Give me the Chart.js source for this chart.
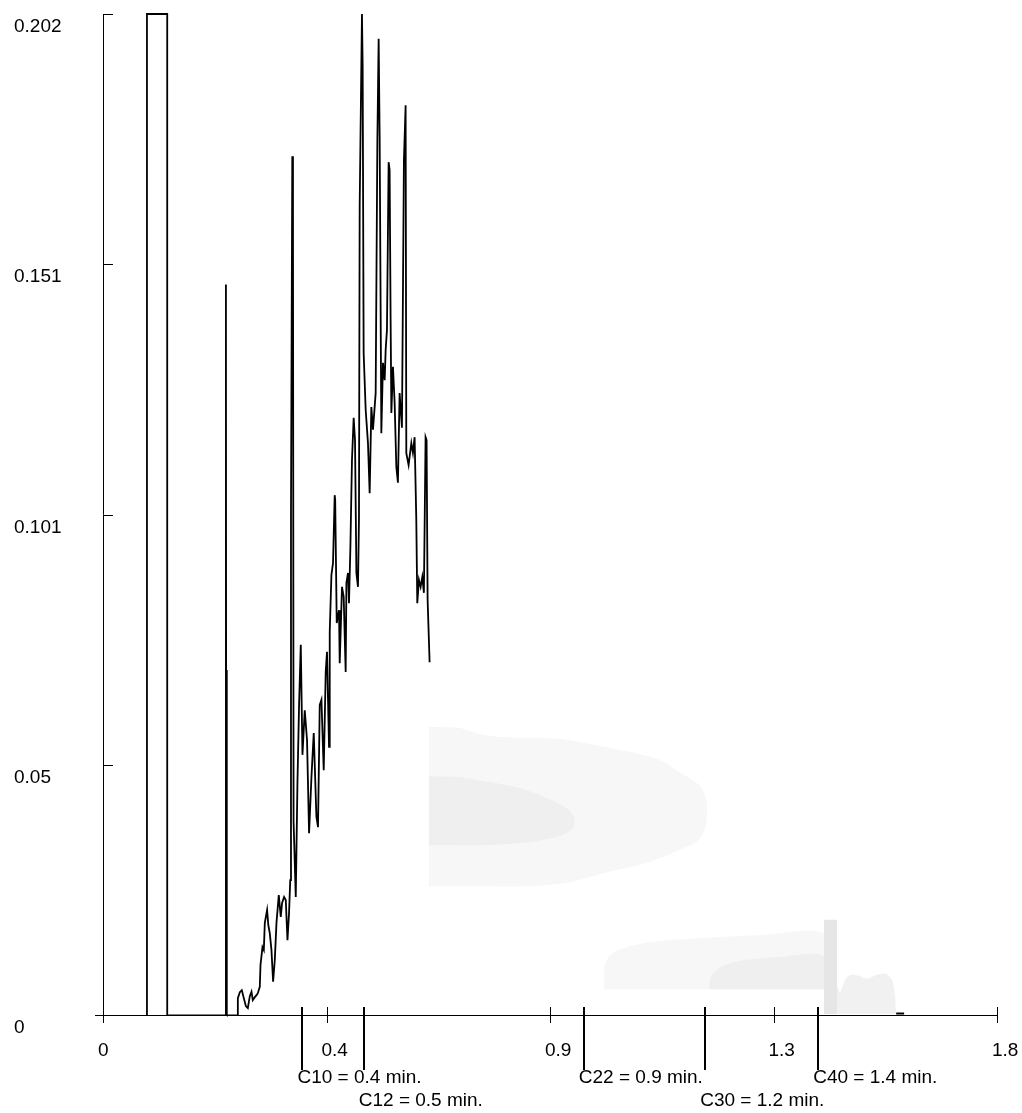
<!DOCTYPE html>
<html>
<head>
<meta charset="utf-8">
<script src="https://cdn.jsdelivr.net/npm/chart.js@4.4.1/dist/chart.umd.min.js"></script>
<style>
html,body{margin:0;padding:0;background:#fff;}
#wrap{width:1022px;height:1113px;}
</style>
</head>
<body>
<div id="wrap"><canvas id="chrom" width="1022" height="1113"></canvas></div>
<script>
// axis ticks (the labels are truncated, as in the original)
var xTicks = [0, 0.45, 0.9, 1.35, 1.8];
var xTickLabels = ['0', '0.4', '0.9', '1.3', '1.8'];
var yTicks = [0, 0.0505, 0.101, 0.1515, 0.202];
var yTickLabels = ['0', '0.05', '0.101', '0.151', '0.202'];

// retention time markers under the axis
var markerX = [0.4016, 0.525, 0.968, 1.2125, 1.44];
var markerLabels = ['C10 = 0.4 min.', 'C12 = 0.5 min.', 'C22 = 0.9 min.', 'C30 = 1.2 min.', 'C40 = 1.4 min.'];

// off-scale peak + early spike
var peakX = [0.0885, 0.0885, 0.1293, 0.1293, 0.2475, 0.2475, 0.2482, 0.2489, 0.2496, 0.2701];
var peakY = [0, 0.202, 0.202, 0, 0, 0.1474, 0.0001, 0.0696, 0, 0];

// noisy signal
var traceX = [0.2715, 0.2755, 0.2795, 0.2835, 0.2876, 0.2916, 0.2956, 0.2990, 0.3016, 0.3057,
  0.3091, 0.3117, 0.3157, 0.3171, 0.3211, 0.3238, 0.3258, 0.3304, 0.3328, 0.3358,
  0.3392, 0.3425, 0.3459, 0.3493, 0.3539, 0.3579, 0.3606, 0.3646, 0.3680, 0.3714,
  0.3746, 0.3770, 0.3785, 0.3811, 0.3825, 0.3837, 0.3881, 0.3915, 0.3947, 0.3982,
  0.4016, 0.4062, 0.4108, 0.4149, 0.4197, 0.4243, 0.4297, 0.4329, 0.4364, 0.4398,
  0.4444, 0.4484, 0.4510, 0.4551, 0.4565, 0.4599, 0.4631, 0.4665, 0.4675, 0.4706,
  0.4752, 0.4766, 0.4812, 0.4846, 0.4886, 0.4901, 0.4933, 0.4953, 0.4981, 0.5013,
  0.5047, 0.5074, 0.5102, 0.5134, 0.5154, 0.5168, 0.5214, 0.5228, 0.5248, 0.5289,
  0.5335, 0.5369, 0.5403, 0.5436, 0.5490, 0.5524, 0.5550, 0.5570, 0.5604, 0.5637,
  0.5671, 0.5691, 0.5717, 0.5751, 0.5771, 0.5791, 0.5806, 0.5838, 0.5872, 0.5906,
  0.5938, 0.5972, 0.6019, 0.6059, 0.6093, 0.6107, 0.6153, 0.6208, 0.6240, 0.6274,
  0.6308, 0.6328, 0.6361, 0.6395, 0.6429, 0.6461, 0.6495, 0.6515, 0.6536, 0.6576];
var traceY = [0.0034, 0.0046, 0.0050, 0.0034, 0.0018, 0.0014, 0.0038, 0.0047, 0.0030, 0.0036,
  0.0040, 0.0044, 0.0057, 0.0101, 0.0137, 0.0131, 0.0186, 0.0212, 0.0182, 0.0165,
  0.0131, 0.0067, 0.0111, 0.0186, 0.0242, 0.0198, 0.0226, 0.0238, 0.0232, 0.0151,
  0.0206, 0.0272, 0.1013, 0.1733, 0.1608, 0.0391, 0.0238, 0.0468, 0.0622, 0.0747,
  0.0525, 0.0615, 0.0555, 0.0367, 0.0480, 0.0569, 0.0400, 0.0379, 0.0626, 0.0636,
  0.0494, 0.0692, 0.0733, 0.0541, 0.0773, 0.0888, 0.0912, 0.1049, 0.1039, 0.0791,
  0.0817, 0.0710, 0.0864, 0.0844, 0.0692, 0.0872, 0.0892, 0.0831, 0.0944, 0.1120,
  0.1205, 0.1160, 0.0892, 0.0864, 0.1003, 0.1633, 0.2020, 0.1915, 0.1336, 0.1221,
  0.1154, 0.1053, 0.1227, 0.1181, 0.1255, 0.1764, 0.1970, 0.1774, 0.1174, 0.1316,
  0.1281, 0.1342, 0.1382, 0.1721, 0.1705, 0.1402, 0.1215, 0.1308, 0.1235, 0.1106,
  0.1074, 0.1255, 0.1185, 0.1725, 0.1836, 0.1134, 0.1110, 0.1154, 0.1134, 0.1166,
  0.0999, 0.0831, 0.0878, 0.0864, 0.0884, 0.0852, 0.1166, 0.1160, 0.0837, 0.0712];

// small flat bit near the end of the run
var tailX = [1.597, 1.613];
var tailY = [0.0003, 0.0003];

// faint grey background shapes
var shadeAOuterX = [0.6561, 0.7179, 0.7581, 0.7983, 0.9190, 0.9994, 1.0598, 1.1201, 1.1603, 1.2005, 1.2146, 1.2166, 1.2106, 1.1945, 1.1603, 1.1000, 1.0195, 0.9391, 0.8586, 0.7581, 0.6561];
var shadeAOuterY = [0.0581, 0.0579, 0.0567, 0.0561, 0.0557, 0.0543, 0.0531, 0.0515, 0.0490, 0.0464, 0.0434, 0.0410, 0.0373, 0.0349, 0.0333, 0.0309, 0.0289, 0.0268, 0.0260, 0.0260, 0.0260];
var shadeAInnerX = [0.6561, 0.7179, 0.7782, 0.8385, 0.8888, 0.9290, 0.9491, 0.9451, 0.9190, 0.8586, 0.7782, 0.6561];
var shadeAInnerY = [0.0482, 0.0480, 0.0470, 0.0458, 0.0440, 0.0420, 0.0398, 0.0377, 0.0361, 0.0349, 0.0343, 0.0343];
var shadeBOuterX = [1.0095, 1.0095, 1.0195, 1.0497, 1.0999, 1.2005, 1.3211, 1.4518, 1.4518];
var shadeBOuterY = [0.0052, 0.0095, 0.0119, 0.0135, 0.0147, 0.0155, 0.0161, 0.0163, 0.0052];
var shadeBInnerX = [1.2206, 1.2226, 1.2407, 1.2809, 1.3613, 1.4518, 1.4518];
var shadeBInnerY = [0.0052, 0.0075, 0.0095, 0.0109, 0.0117, 0.0119, 0.0052];
var shadeBarX = [1.4518, 1.4518, 1.4779, 1.4779];
var shadeBarY = [0.0002, 0.0192, 0.0192, 0.0002];
var shadeBumpX = [1.4779, 1.4779, 1.4839, 1.4940, 1.5061, 1.5222, 1.5383, 1.5584, 1.5765, 1.5886, 1.5946, 1.5966];
var shadeBumpY = [0.0002, 0.0061, 0.0046, 0.0071, 0.0081, 0.0079, 0.0073, 0.0081, 0.0083, 0.0071, 0.0040, 0.0002];

function pts(xs, ys) {
  return xs.map(function (x, i) { return { x: x, y: ys[i] }; });
}

var FONT = '"Liberation Sans", Arial, sans-serif';

function shape(xs, ys, color, order, tension) {
  return {
    data: pts(xs, ys),
    showLine: true,
    borderWidth: 0,
    borderColor: color,
    backgroundColor: color,
    fill: 'shape',
    pointRadius: 0,
    tension: tension,
    order: order
  };
}

var axisMarks = {
  id: 'axisMarks',
  afterDraw: function (chart) {
    var ctx = chart.ctx, xs = chart.scales.x, ys = chart.scales.y, a = chart.chartArea;
    ctx.save();
    ctx.strokeStyle = '#000';
    ctx.lineWidth = 1;
    ctx.beginPath();
    ctx.moveTo(a.left + 0.5, a.top);
    ctx.lineTo(a.left + 0.5, a.bottom);
    ctx.moveTo(a.left - 8, a.bottom + 0.5);
    ctx.lineTo(a.right, a.bottom + 0.5);
    yTicks.forEach(function (v) {
      var y = Math.round(ys.getPixelForValue(v)) + 0.5;
      ctx.moveTo(a.left, y);
      ctx.lineTo(a.left + 10, y);
    });
    xTicks.forEach(function (v) {
      var x = Math.round(xs.getPixelForValue(v)) + 0.5;
      ctx.moveTo(x, a.bottom - 8);
      ctx.lineTo(x, a.bottom + 8);
    });
    ctx.stroke();

    ctx.lineWidth = 2;
    ctx.beginPath();
    markerX.forEach(function (v) {
      var x = Math.round(xs.getPixelForValue(v));
      ctx.moveTo(x, a.bottom - 8);
      ctx.lineTo(x, a.bottom + 55);
    });
    ctx.stroke();

    ctx.fillStyle = '#000';
    ctx.font = '19px ' + FONT;
    ctx.textBaseline = 'middle';
    ctx.textAlign = 'left';
    markerX.forEach(function (v, i) {
      var x = xs.getPixelForValue(v);
      ctx.fillText(markerLabels[i], x - 5, a.bottom + (i % 2 ? 86 : 63));
    });
    ctx.restore();
  }
};

var chart = new Chart(document.getElementById('chrom'), {
  type: 'scatter',
  data: {
    datasets: [
      {
        data: pts(peakX, peakY).concat(pts([0.2701], [0])).concat(pts(traceX, traceY)),
        showLine: true,
        borderColor: '#000',
        borderWidth: 1.8,
        pointRadius: 0,
        tension: 0,
        clip: 3,
        order: 0,
        // flat baseline runs sit on the axis, keep them thin
        segment: {
          borderWidth: function (c) { return (c.p0.parsed.y === 0 && c.p1.parsed.y === 0) ? 1 : 1.8; }
        }
      },
      {
        data: pts(tailX, tailY),
        showLine: true,
        borderColor: '#000',
        borderWidth: 2,
        pointRadius: 0,
        order: 1
      },
      shape(shadeAOuterX, shadeAOuterY, '#f7f7f7', 10, 0.3),
      shape(shadeAInnerX, shadeAInnerY, '#efefef', 9, 0.3),
      shape(shadeBOuterX, shadeBOuterY, '#f7f7f7', 8, 0.3),
      shape(shadeBInnerX, shadeBInnerY, '#efefef', 7, 0.3),
      shape(shadeBarX, shadeBarY, '#e6e6e6', 6, 0),
      shape(shadeBumpX, shadeBumpY, '#f1f1f1', 6, 0.3)
    ]
  },
  options: {
    responsive: false,
    animation: false,
    layout: { padding: { left: 14, top: 14, right: 0, bottom: 0 } },
    plugins: { legend: { display: false }, tooltip: { enabled: false } },
    scales: {
      x: {
        type: 'linear',
        min: 0,
        max: 1.8,
        grid: { display: false, drawTicks: false },
        border: { display: false },
        afterBuildTicks: function (s) { s.ticks = xTicks.map(function (v) { return { value: v }; }); },
        afterFit: function (s) { s.height = 98; s.paddingLeft = 0; s.paddingRight = 25; },
        ticks: {
          align: 'start',
          labelOffset: -5,
          padding: 24,
          maxRotation: 0,
          color: '#000',
          font: { family: FONT, size: 19 },
          callback: function (v, i) { return xTickLabels[i]; }
        }
      },
      y: {
        type: 'linear',
        min: 0,
        max: 0.202,
        grid: { display: false, drawTicks: false },
        border: { display: false },
        afterBuildTicks: function (s) { s.ticks = yTicks.map(function (v) { return { value: v }; }); },
        afterFit: function (s) { s.width = 89; s.paddingTop = 0; s.paddingBottom = 0; },
        ticks: {
          crossAlign: 'far',
          labelOffset: 13,
          color: '#000',
          font: { family: FONT, size: 19 },
          callback: function (v, i) { return yTickLabels[i]; }
        }
      }
    }
  },
  plugins: [axisMarks]
});
</script>
</body>
</html>
